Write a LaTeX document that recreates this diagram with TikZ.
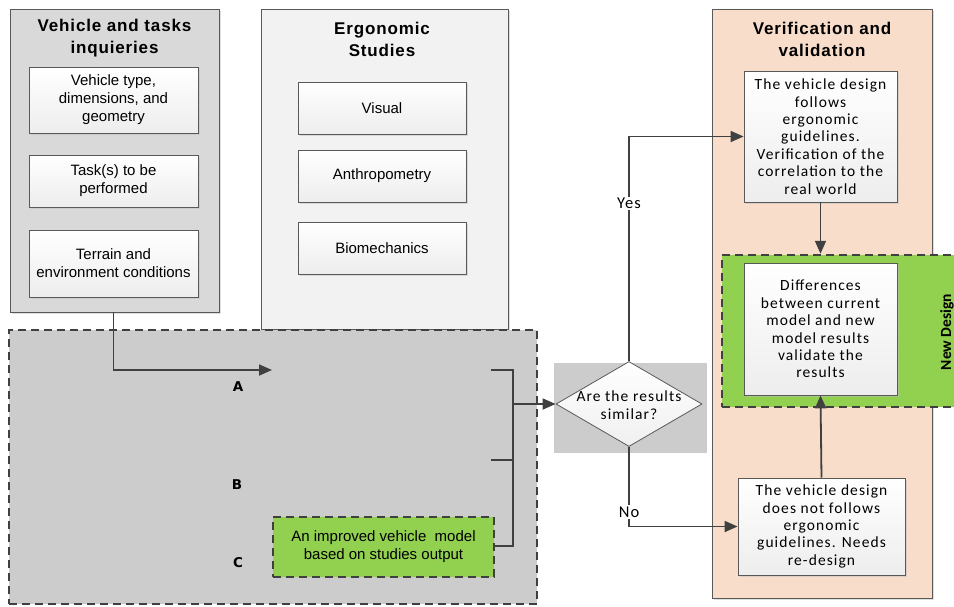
\documentclass[tikz,border=0pt]{standalone}
\usepackage{fontspec}
\setmainfont{Liberation Sans}
\newfontfamily\ttlfont[LetterSpace=5]{Liberation Sans}
\newfontfamily\calib[LetterSpace=7]{Carlito}
\newfontfamily\calibn{Carlito}
\newfontfamily\dvs{DejaVu Sans}
\usetikzlibrary{shapes.geometric,arrows.meta,shadows}
\definecolor{linec}{HTML}{595959}
\definecolor{darkc}{HTML}{404040}
\definecolor{panelA}{HTML}{D9D9D9}
\definecolor{panelB}{HTML}{F2F2F2}
\definecolor{dashfill}{HTML}{CCCCCC}
\definecolor{greenc}{HTML}{92D050}
\definecolor{peach}{HTML}{F9DDCB}
\tikzset{
  x=1pt, y=-1pt,
  shadowed/.style={drop shadow={fill=gray!50, opacity=0.5, shadow xshift=2pt, shadow yshift=-2pt}},
  panel/.style={draw=linec, line width=0.8pt, shadowed, inner sep=0pt},
  ttl/.style={font=\ttlfont\bfseries\fontsize{17}{22}\selectfont, align=center, inner sep=0pt},
  inbox/.style={draw=linec, line width=0.8pt, top color=white, bottom color=gray!14, shadowed,
     align=center, inner sep=0pt, font=\fontsize{15}{18}\selectfont},
  cbox/.style={inbox, font=\calib\fontsize{15.5}{17.4}\selectfont},
  dashbox/.style={draw=darkc, line width=2.5pt, dash pattern=on 8pt off 5pt, inner sep=0pt},
  conn/.style={draw=darkc, line width=1.8pt},
  arr/.style={conn, -{Triangle[length=13pt,width=11pt]}},
  lbl/.style={font=\dvs\bfseries\fontsize{13.5}{15}\selectfont, inner sep=0pt},
  yn/.style={font=\calib\fontsize{16.5}{18}\selectfont, fill=white, inner sep=1.5pt},
}
\begin{document}
\begin{tikzpicture}
\useasboundingbox (0,0) rectangle (954,606);
% left panel
\node[panel, fill=panelA, minimum width=209pt, minimum height=303pt] (P1) at (114.5,160.5) {};
\node[ttl] (P1t) at (114.5,38) {Vehicle and tasks\\inquieries};
\node[inbox, minimum width=169pt, minimum height=66pt] (L1) at (113.5,100) {Vehicle type,\\dimensions, and\\geometry};
\node[inbox, minimum width=169pt, minimum height=52pt] (L2) at (113.5,181) {Task(s) to be\\performed};
\node[inbox, minimum width=169pt, minimum height=67pt] (L3) at (113.5,263.5) {Terrain and\\environment conditions};
% middle panel
\node[panel, fill=panelB, minimum width=247pt, minimum height=320pt] (P2) at (384.5,169) {};
\node[ttl] (P2t) at (382,39) {Ergonomic\\Studies};
\node[inbox, minimum width=168pt, minimum height=52pt] (M1) at (382,108) {Visual};
\node[inbox, minimum width=168pt, minimum height=52pt] (M2) at (382,176) {Anthropometry};
\node[inbox, minimum width=168pt, minimum height=52pt] (M3) at (382,248) {Biomechanics};
% dashed area
\node[dashbox, fill=dashfill, minimum width=528pt, minimum height=274pt] (D) at (273,467) {};
\node[lbl] (A) at (238,387) {A};
\node[lbl] (B) at (237,485) {B};
\node[lbl] (C) at (238,563) {C};
\node[dashbox, fill=greenc, minimum width=221pt, minimum height=60pt, align=center,
      font=\fontsize{15}{18}\selectfont] (G1) at (383.5,547) {An improved vehicle\ \ model\\based on studies output};
\coordinate (a1) at (272,370);
\coordinate (r1) at (491,370);
\coordinate (r2) at (491,460);
\coordinate (j1) at (513,370);
\coordinate (j2) at (513,460);
\coordinate (j3) at (513,546);
\coordinate (jm) at (513,404);
\draw[arr] (P1.south -| L3.south) |- (a1);
\draw[conn] (r1) -- (j1) -- (j3) -- (G1.east |- j3);
\draw[conn] (r2) -- (j2);
% decision
\node[fill=dashfill, minimum width=153pt, minimum height=90pt, inner sep=0pt] (DB) at (630.5,408) {};
\node[diamond, draw=linec, line width=0.8pt, top color=white, bottom color=gray!12, aspect=1.72,
      minimum width=146pt, minimum height=85pt, inner sep=0pt] (Q) at (629,404) {};
\node[font=\calib\fontsize{15.5}{18}\selectfont, align=center, inner sep=0pt] (Qt) at (629,405) {Are the results\\similar?};
\draw[arr] (jm) -- (Q.west);
% right panel
\node[panel, fill=peach, minimum width=220pt, minimum height=589pt] (P3) at (822,303.5) {};
\node[ttl] (P3t) at (822,39) {Verification and\\validation};
\node[cbox, minimum width=153pt, minimum height=131pt] (V1) at (820.5,136.5) {The vehicle design\\follows\\ergonomic\\guidelines.\\Verification of the\\correlation to the\\real world};
\node[dashbox, fill=greenc, minimum width=240pt, minimum height=152pt] (G2) at (842,331) {};
\node[font=\calibn\bfseries\fontsize{15.5}{17}\selectfont, rotate=90, inner sep=0pt] (ND) at (947,332) {New Design};
\node[cbox, minimum width=153pt, minimum height=132pt] (V2) at (820.5,329) {Differences\\between current\\model and new\\model results\\validate the\\results};
\node[cbox, minimum width=167pt, minimum height=97pt] (V3) at (821.5,526.5) {The vehicle design\\does not follows\\ergonomic\\guidelines. Needs\\re-design};
\draw[arr] (V1.south) -- (V1.south |- G2.north);
\draw[arr] (V3.north) -- (V2.south);
\draw[arr] (Q.north) |- (V1.west);
\draw[arr] (Q.south) |- (V3.west);
\node[yn] (Y) at (629,203.5) {Yes};
\node[yn] (N) at (629,512) {No};
\end{tikzpicture}
\end{document}
